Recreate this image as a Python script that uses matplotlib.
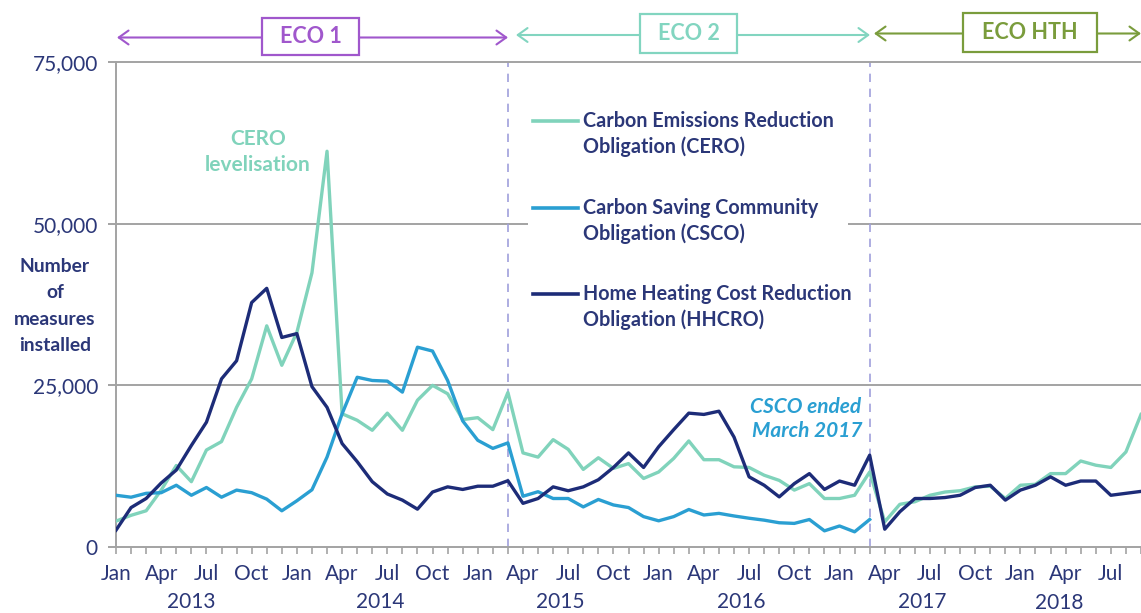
import matplotlib
matplotlib.use('Agg')
import matplotlib.pyplot as plt
from matplotlib.patches import Rectangle, FancyArrowPatch
from matplotlib.lines import Line2D

plt.rcParams['font.family'] = ['Lato', 'DejaVu Sans']

# ---------------- data (Jan 2013 onwards, monthly) ----------------
cero = [4000, 4900, 5600, 8800, 12600, 10100, 15000, 16300, 21600, 26000,
        34200, 28100, 33200, 42400, 61200, 20600, 19600, 18050, 20700, 18050,
        22700, 25000, 23700, 19700, 20000, 18150, 23900, 14550, 13900, 16600,
        15100, 12000, 13800, 12150, 12900, 10600, 11600, 13700, 16400, 13500,
        13500, 12400, 12300, 11100, 10300, 8800, 9800, 7500, 7500, 8000,
        11600, 3900, 6600, 7000, 8000, 8500, 8700, 9300, 9400, 7500,
        9550, 9700, 11350, 11350, 13300, 12650, 12300, 14700, 20500]
csco = [8000, 7700, 8300, 8400, 9550, 8000, 9200, 7700, 8800, 8400,
        7400, 5600, 7150, 8850, 13900, 20600, 26250, 25750, 25650, 23950,
        30900, 30300, 25750, 19500, 16500, 15250, 16100, 7850, 8550, 7500,
        7500, 6200, 7350, 6500, 6100, 4700, 4050, 4700, 5800, 4950,
        5200, 4800, 4450, 4150, 3750, 3650, 4250, 2500, 3250, 2350, 4250]
hhcro = [2600, 6100, 7500, 9900, 11900, 15700, 19300, 26000, 28800, 37800,
         40000, 32400, 33000, 24800, 21600, 16000, 13200, 10100, 8200, 7250,
         5850, 8500, 9300, 8900, 9400, 9400, 10250, 6750, 7500, 9300,
         8700, 9300, 10400, 12300, 14550, 12300, 15500, 18150, 20700, 20500,
         21000, 17000, 10850, 9550, 7750, 9800, 11350, 8900, 10200, 9550,
         14200, 2750, 5450, 7500, 7500, 7650, 8000, 9200, 9550, 7250,
         8800, 9550, 10850, 9550, 10200, 10200, 8000, 8300, 8600]

series_names = ["Carbon Emissions Reduction\nObligation (CERO)",
                "Carbon Saving Community\nObligation (CSCO)",
                "Home Heating Cost Reduction\nObligation (HHCRO)"]
month_names = ['Jan', 'Apr', 'Jul', 'Oct']
years = ['2013', '2014', '2015', '2016', '2017', '2018']
year_pos = [5.0, 17.5, 29.5, 41.5, 53.5, 62.6]
y_ticks = [0, 25000, 50000, 75000]
y_ticklabels = ['0', '25,000', '50,000', '75,000']
phases = ['ECO 1', 'ECO 2', 'ECO HTH']
phase_ends = [26, 50]

# ---------------- style ----------------
C_CERO = '#80d3bb'
C_CSCO = '#2a9fd2'
C_HH = '#1d2c78'
NAVY = '#2b3778'
GRID = '#a3a3a3'
PURPLE = '#a057cc'
TEAL = '#82d5c0'
OLIVE = '#7a9c3c'

W, H = 1141, 613
fig = plt.figure(figsize=(W / 100, H / 100), dpi=100)


def fx(x):
    return x / W


def fy(y):
    return 1 - y / H


px_month = 15.12
ax = fig.add_axes([fx(116), fy(547), fx(1141) - fx(116), fy(62) - fy(547)])
ax.set_xlim(0, (1141 - 116) / px_month)
ax.set_ylim(0, 75000)

ax.spines['right'].set_visible(False)
for s in ['left', 'bottom', 'top']:
    ax.spines[s].set_color(GRID)
    ax.spines[s].set_linewidth(1.4)

ax.set_yticks(y_ticks)
ax.set_yticklabels(y_ticklabels)
ax.tick_params(axis='y', length=6, width=1.4, color=GRID, labelcolor=NAVY,
               labelsize=15, pad=7)
n = len(hhcro)
ax.set_xticks(range(n))
ax.set_xticklabels([month_names[(i // 3) % 4] if i % 3 == 0 else '' for i in range(n)])
ax.tick_params(axis='x', length=5, width=1.2, color=GRID, labelcolor=NAVY,
               labelsize=15, pad=7)

for yv in [25000, 50000]:
    ax.axhline(yv, color=GRID, lw=1.4, zorder=0.5)

# white background under the legend hides part of the 50,000 gridline
ax.add_patch(Rectangle((fx(528), fy(233)), fx(848) - fx(528), fy(213) - fy(233),
                       transform=fig.transFigure, facecolor='white',
                       edgecolor='none', zorder=1))

for xv in phase_ends:
    ax.axvline(xv, color='#9fa0dc', lw=1.2, dashes=(5, 4), zorder=1.5)

ax.plot(range(len(cero)), cero, color=C_CERO, lw=2.4, zorder=3)
ax.plot(range(len(csco)), csco, color=C_CSCO, lw=2.4, zorder=3)
ax.plot(range(len(hhcro)), hhcro, color=C_HH, lw=2.4, zorder=4)

for yr, p in zip(years, year_pos):
    yy = -0.113 if yr != '2018' else -0.116
    ax.text(p, yy, yr, transform=ax.get_xaxis_transform(), ha='center',
            va='center', color=NAVY, fontsize=15, clip_on=False)

# legend (manual)
leg_y = [121, 208, 294]
for name, col, ly in zip(series_names, [C_CERO, C_CSCO, C_HH], leg_y):
    fig.add_artist(Line2D([fx(533), fx(578)], [fy(ly), fy(ly)], color=col,
                          lw=2.6, transform=fig.transFigure))
    l1, l2 = name.split('\n')
    fig.text(fx(583), fy(ly), l1, ha='left', va='center', color=NAVY,
             fontsize=14.2, fontweight='bold')
    fig.text(fx(583), fy(ly + 26), l2, ha='left', va='center', color=NAVY,
             fontsize=14.2, fontweight='bold')

# y-axis title
for t, yy in zip(['Number', 'of', 'measures', 'installed'], [266, 293, 319, 345]):
    fig.text(fx(55), fy(yy), t, ha='center', va='center', color=NAVY,
             fontsize=13.9, fontweight='bold')

# annotations
fig.text(fx(258), fy(139), 'CERO', ha='center', va='center', color=C_CERO,
         fontsize=15, fontweight='bold')
fig.text(fx(258), fy(165), 'levelisation', ha='center', va='center',
         color=C_CERO, fontsize=15, fontweight='bold')
fig.text(fx(806), fy(407), 'CSCO ended', ha='center', va='center',
         color=C_CSCO, fontsize=15, fontweight='bold', style='italic')
fig.text(fx(807), fy(431), 'March 2017', ha='center', va='center',
         color=C_CSCO, fontsize=15, fontweight='bold', style='italic')

# phase banner
banner = [
    (phases[0], PURPLE, 117, 508, 37.5, (262, 359, 18, 55)),
    (phases[1], TEAL, 516, 870, 35, (640, 737, 14, 53)),
    (phases[2], OLIVE, 874, 1141, 33.5, (963, 1097, 13, 52)),
]
for label, col, x0, x1, ay, (bx0, bx1, by0, by1) in banner:
    fig.add_artist(FancyArrowPatch(
        (fx(x0), fy(ay)), (fx(x1), fy(ay)), transform=fig.transFigure,
        arrowstyle='<->,head_length=7,head_width=5', color=col, lw=1.5,
        mutation_scale=1, shrinkA=0, shrinkB=0))
    fig.add_artist(Rectangle((fx(bx0), fy(by1)), fx(bx1) - fx(bx0),
                             fy(by0) - fy(by1), transform=fig.transFigure,
                             facecolor='white', edgecolor=col, lw=1.6))
    fig.text(fx((bx0 + bx1) / 2), fy((by0 + by1) / 2), label, ha='center',
             va='center', color=col, fontsize=15.5, fontweight='bold')

fig.savefig('out.png', dpi=100)
